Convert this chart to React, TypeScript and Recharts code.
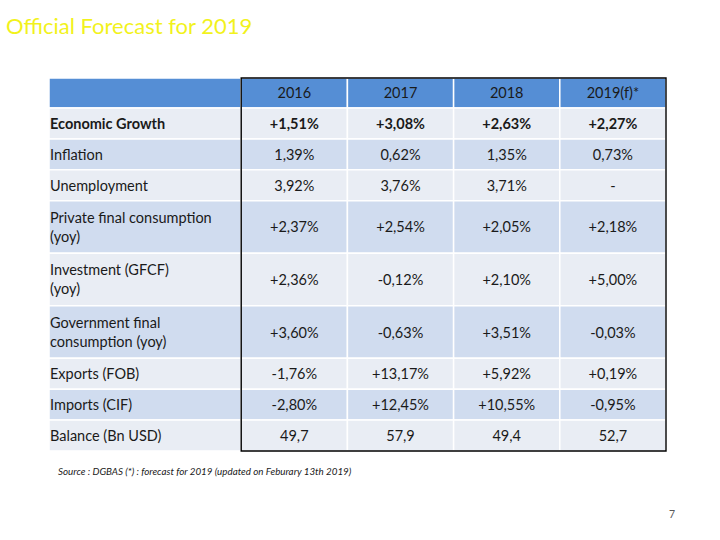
import React from 'react';
import { ComposedChart, XAxis, YAxis, ReferenceArea } from 'recharts';

const title = 'Official Forecast for 2019';
const years = ['2016', '2017', '2018', '2019(f)*'];
const indicators = [
  'Economic Growth',
  'Inflation',
  'Unemployment',
  'Private final consumption\n(yoy)',
  'Investment (GFCF)\n(yoy)',
  'Government final\nconsumption (yoy)',
  'Exports (FOB)',
  'Imports (CIF)',
  'Balance (Bn USD)',
];
const formats = ['signed', 'percent', 'percent', 'signed', 'signed', 'signed', 'signed', 'signed', 'number'];
const values2016 = [1.51, 1.39, 3.92, 2.37, 2.36, 3.6, -1.76, -2.8, 49.7];
const values2017 = [3.08, 0.62, 3.76, 2.54, -0.12, -0.63, 13.17, 12.45, 57.9];
const values2018 = [2.63, 1.35, 3.71, 2.05, 2.1, 3.51, 5.92, 10.55, 49.4];
const values2019 = [2.27, 0.73, null, 2.18, 5.0, -0.03, 0.19, -0.95, 52.7];
const boldRows = ['Economic Growth'];
const source = 'Source : DGBAS (*) : forecast for 2019 (updated on Feburary 13th 2019)';
const pageNumber = '7';

const seriesByYear = [values2016, values2017, values2018, values2019];

function fmt(v: number | null, kind: string): string {
  if (v == null) return '-';
  if (kind === 'number') return v.toFixed(1).replace('.', ',');
  const s = v.toFixed(2).replace('.', ',') + '%';
  return kind === 'signed' && v >= 0 ? '+' + s : s;
}

// layout units
const LABEL_W = 1.81;
const COL_W = 1;
const HEADER_H = 0.97;
const xEdges: number[] = [0, LABEL_W];
years.forEach(() => xEdges.push(xEdges[xEdges.length - 1] + COL_W));
const totalW = xEdges[xEdges.length - 1];
const rowWeights = indicators.map((l) => (l.split('\n').length > 1 ? 1.7 : 1));
const yEdges: number[] = [0, HEADER_H];
rowWeights.forEach((w) => yEdges.push(yEdges[yEdges.length - 1] + w));
const totalH = yEdges[yEdges.length - 1];

const FONT = 'Lato, "Open Sans", sans-serif';
const HEADER_FILL = '#558ed5';
const LIGHT_FILL = '#e9edf4';
const BLUE_FILL = '#d0dcef';

type Cell = {
  key: string;
  x1: number;
  x2: number;
  y1: number;
  y2: number;
  fill: string;
  text: string;
  align: 'left' | 'center';
  bold: boolean;
};

const cells: Cell[] = [];
cells.push({ key: 'h-label', x1: 0, x2: LABEL_W, y1: 0, y2: HEADER_H, fill: HEADER_FILL, text: '', align: 'left', bold: false });
years.forEach((yr, j) => {
  cells.push({ key: 'h-' + yr, x1: xEdges[j + 1], x2: xEdges[j + 2], y1: 0, y2: HEADER_H, fill: HEADER_FILL, text: yr, align: 'center', bold: false });
});
indicators.forEach((label, i) => {
  const fill = i % 2 === 0 ? LIGHT_FILL : BLUE_FILL;
  const bold = boldRows.includes(label);
  cells.push({ key: 'l-' + i, x1: 0, x2: LABEL_W, y1: yEdges[i + 1], y2: yEdges[i + 2], fill, text: label, align: 'left', bold });
  seriesByYear.forEach((series, j) => {
    cells.push({
      key: 'v-' + i + '-' + j,
      x1: xEdges[j + 1],
      x2: xEdges[j + 2],
      y1: yEdges[i + 1],
      y2: yEdges[i + 2],
      fill,
      text: fmt(series[i], formats[i]),
      align: 'center',
      bold,
    });
  });
});

const tableRows = indicators.map((label, i) => ({ name: label, x: 0, y: yEdges[i + 1] }));

function CellText(props: any) {
  const { viewBox, text, align, bold } = props;
  if (!viewBox || !text) return null;
  const lines = String(text).split('\n');
  const lh = 19;
  const cx = align === 'left' ? viewBox.x + 1 : viewBox.x + viewBox.width / 2;
  const cy = viewBox.y + viewBox.height / 2;
  const startY = cy - ((lines.length - 1) * lh) / 2;
  return (
    <text
      x={cx}
      y={startY}
      textAnchor={align === 'left' ? 'start' : 'middle'}
      fontFamily={FONT}
      fontSize={14.5}
      fontWeight={bold ? 700 : 400}
      fill="#1a1a1a"
    >
      {lines.map((ln, k) => (
        <tspan key={k} x={cx} y={startY + k * lh} dominantBaseline="central">
          {ln}
        </tspan>
      ))}
    </text>
  );
}

export default function App() {
  return (
    <div style={{ position: 'absolute', left: 0, top: 0, width: 720, height: 540, background: '#ffffff' }}>
      <ComposedChart
        width={720}
        height={540}
        data={tableRows}
        margin={{ top: 78, right: 54, bottom: 89, left: 49 }}
      >
        <XAxis type="number" dataKey="x" domain={[0, totalW]} hide allowDataOverflow />
        <YAxis type="number" dataKey="y" domain={[0, totalH]} reversed hide allowDataOverflow />
        {cells.map((c) => (
          <ReferenceArea
            key={c.key}
            x1={c.x1}
            x2={c.x2}
            y1={c.y1}
            y2={c.y2}
            fill={c.fill}
            fillOpacity={1}
            stroke="#ffffff"
            strokeWidth={1.5}
            ifOverflow="visible"
            label={{ content: (p: any) => <CellText viewBox={p.viewBox} text={c.text} align={c.align} bold={c.bold} /> }}
          />
        ))}
        <ReferenceArea
          x1={LABEL_W}
          x2={totalW}
          y1={0}
          y2={totalH}
          fill="none"
          fillOpacity={0}
          stroke="#000000"
          strokeWidth={1.4}
          ifOverflow="visible"
        />
      </ComposedChart>
      <svg width={720} height={540} style={{ position: 'absolute', left: 0, top: 0, pointerEvents: 'none' }}>
        <text x={6} y={34} fontFamily={FONT} fontSize={22} fill="#f2f21c">
          {title}
        </text>
        <text x={58} y={475} fontFamily={FONT} fontSize={9.8} fontStyle="italic" fill="#1a1a1a">
          {source}
        </text>
        <text x={672} y={518} textAnchor="middle" fontFamily={FONT} fontSize={10.5} fill="#595959">
          {pageNumber}
        </text>
      </svg>
    </div>
  );
}
